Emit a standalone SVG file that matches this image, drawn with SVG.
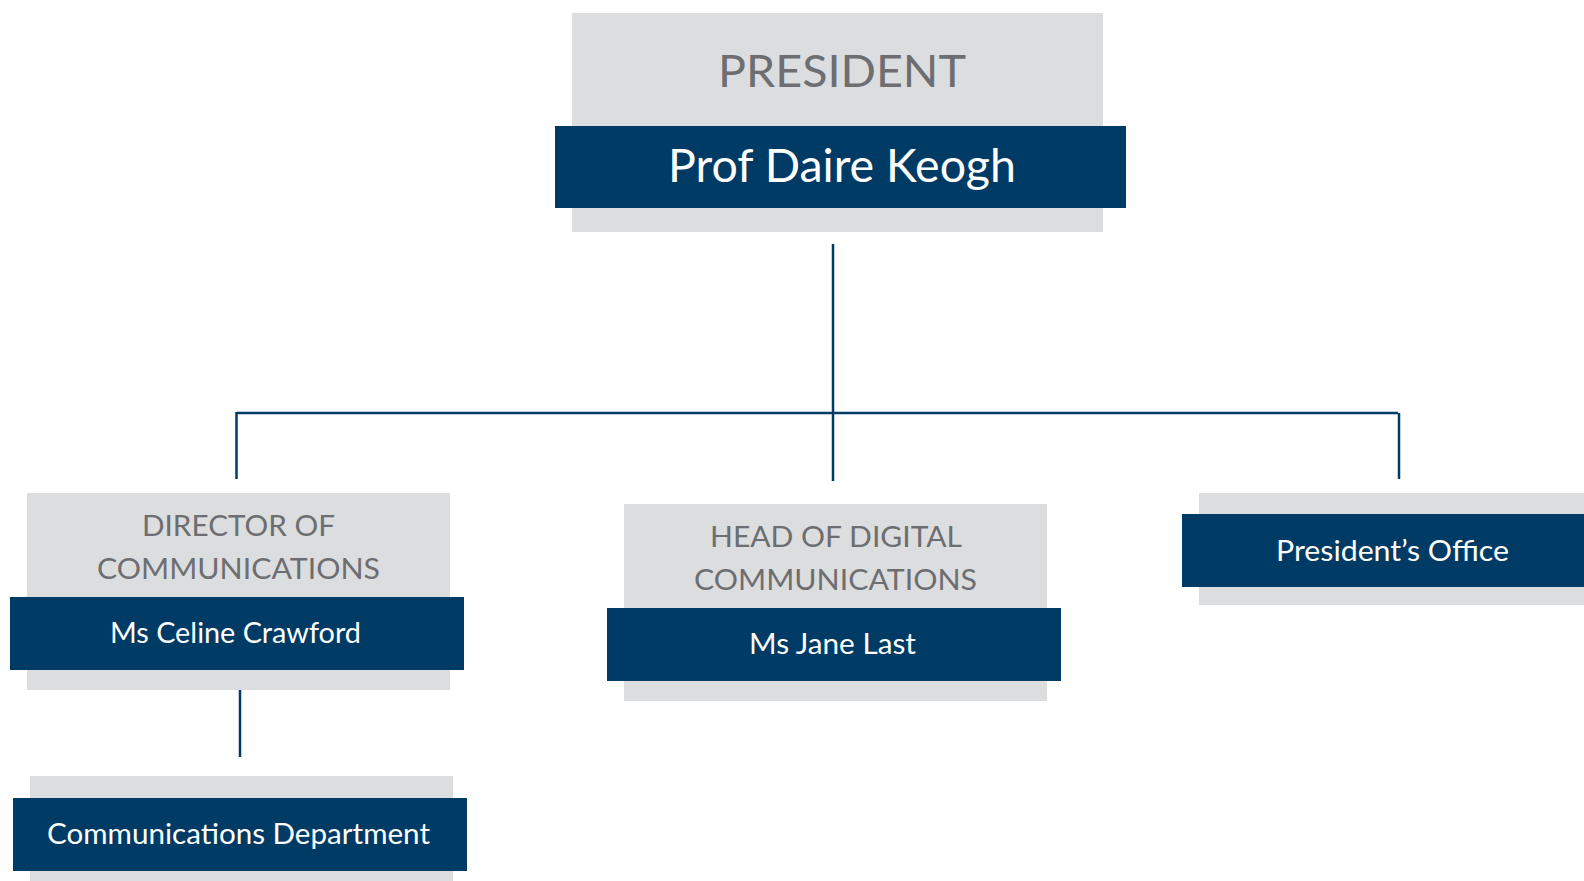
<svg xmlns="http://www.w3.org/2000/svg" width="1584" height="881" viewBox="0 0 1584 881">
  <style>
    .bg { fill: #DCDDDF; }
    .bar { fill: #003B65; }
    .title { font-family: Lato, "Open Sans", "Liberation Sans", sans-serif; fill: #6D6E71; text-anchor: middle; font-size: 28px; }
    .name { font-family: Lato, "Open Sans", "Liberation Sans", sans-serif; fill: #FFFFFF; text-anchor: middle; font-size: 28px; }
    .conn { stroke: #003B65; stroke-width: 2.5; fill: none; }
  </style>
  <rect width="1584" height="881" fill="#FFFFFF"/>
  <g id="connectors">
    <path class="conn" d="M833 244 V481"/>
    <path class="conn" d="M236.5 413 H1398"/>
    <path class="conn" d="M236.5 412 V479"/>
    <path class="conn" d="M1399 413 V479"/>
    <path class="conn" d="M240 688 V757"/>
  </g>
  <g id="president">
    <rect class="bg" x="572" y="13" width="531" height="219"/>
    <rect class="bar" x="555" y="126" width="571" height="82"/>
    <text class="title" x="842" y="87" style="font-size:45px" textLength="248" lengthAdjust="spacingAndGlyphs">PRESIDENT</text>
    <text class="name" x="842" y="182" style="font-size:46px" textLength="348" lengthAdjust="spacingAndGlyphs">Prof Daire Keogh</text>
  </g>
  <g id="director">
    <rect class="bg" x="27" y="493" width="423" height="197"/>
    <rect class="bar" x="10" y="597" width="454" height="73"/>
    <text class="title" x="238.5" y="536" textLength="193" lengthAdjust="spacingAndGlyphs">DIRECTOR OF</text>
    <text class="title" x="238.5" y="579" textLength="283" lengthAdjust="spacingAndGlyphs">COMMUNICATIONS</text>
    <text class="name" x="235.5" y="643" textLength="251" lengthAdjust="spacingAndGlyphs">Ms Celine Crawford</text>
  </g>
  <g id="head-digital">
    <rect class="bg" x="624" y="504" width="423" height="197"/>
    <rect class="bar" x="607" y="608" width="454" height="73"/>
    <text class="title" x="836" y="547" textLength="252" lengthAdjust="spacingAndGlyphs">HEAD OF DIGITAL</text>
    <text class="title" x="835.5" y="590" textLength="283" lengthAdjust="spacingAndGlyphs">COMMUNICATIONS</text>
    <text class="name" x="832.5" y="654" textLength="167" lengthAdjust="spacingAndGlyphs">Ms Jane Last</text>
  </g>
  <g id="presidents-office">
    <rect class="bg" x="1199" y="493" width="385" height="112"/>
    <rect class="bar" x="1182" y="514" width="402" height="73"/>
    <text class="name" x="1392.5" y="561" textLength="233" lengthAdjust="spacingAndGlyphs">President’s Office</text>
  </g>
  <g id="communications-department">
    <rect class="bg" x="30" y="776" width="423" height="105"/>
    <rect class="bar" x="13" y="798" width="454" height="73"/>
    <text class="name" x="238.5" y="844" textLength="383" lengthAdjust="spacingAndGlyphs">Communications Department</text>
  </g>
</svg>
